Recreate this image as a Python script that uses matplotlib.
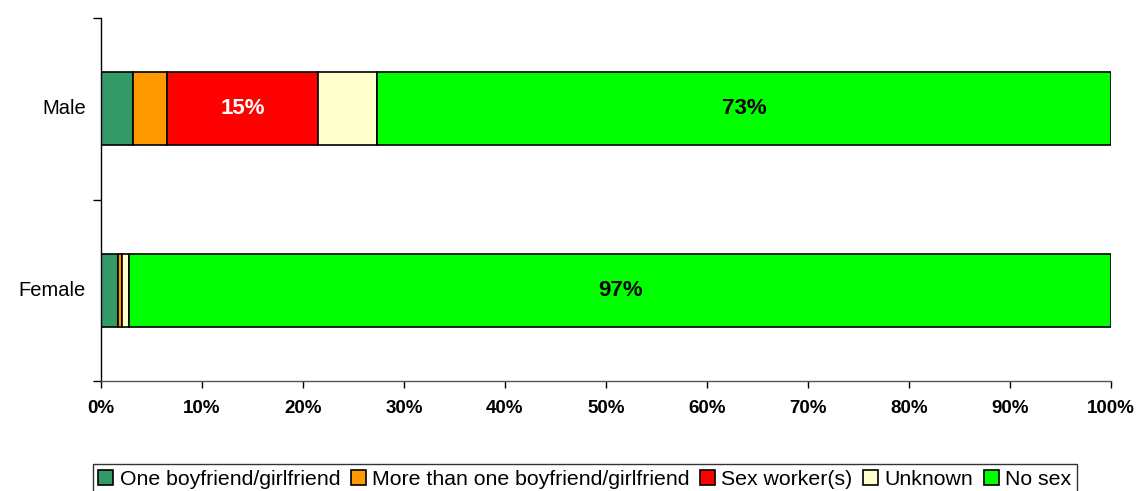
import matplotlib.pyplot as plt
from matplotlib.ticker import FixedLocator, NullFormatter
import numpy as np

plt.rcParams['font.family'] = ['Liberation Sans', 'DejaVu Sans']

categories = ['Female', 'Male']
series_names = ['One boyfriend/girlfriend', 'More than one boyfriend/girlfriend',
                'Sex worker(s)', 'Unknown', 'No sex']
values = {
    'One boyfriend/girlfriend': [1.7, 3.2],
    'More than one boyfriend/girlfriend': [0.4, 3.3],
    'Sex worker(s)': [0.0, 15.0],
    'Unknown': [0.7, 5.8],
    'No sex': [97.2, 72.7],
}
labels = {
    'Sex worker(s)': ['', '15%'],
    'No sex': ['97%', '73%'],
}
label_colors = {'Sex worker(s)': 'white', 'No sex': 'black'}
colors = ['#339966', '#FF9900', '#FF0000', '#FFFFCC', '#00FF00']
xticks = list(range(0, 101, 10))

fig = plt.figure(figsize=(11.36, 4.91), dpi=100)
ax = fig.add_axes([101/1136, 1 - 381/491, (1111-101)/1136, (381-18)/491])

y = np.arange(len(categories))
left = np.zeros(len(categories))
for name, c in zip(series_names, colors):
    v = np.array(values[name])
    ax.barh(y, v, left=left, height=0.4, color=c, edgecolor='black', linewidth=1.2, label=name)
    if name in labels:
        for i, t in enumerate(labels[name]):
            if t:
                ax.text(left[i] + v[i] / 2, y[i], t, ha='center', va='center',
                        fontsize=16, fontweight='bold', color=label_colors[name])
    left += v

ax.set_xlim(0, 100)
ax.set_ylim(-0.5, 1.5)
ax.set_xticks(xticks)
ax.set_xticklabels([f'{t}%' for t in xticks], fontsize=13.5, fontweight='bold')
ax.yaxis.set_major_locator(FixedLocator([-0.5, 0.5, 1.5]))
ax.yaxis.set_major_formatter(NullFormatter())
for yi, cat in zip(y, categories):
    ax.text(-1.5, yi, cat, ha='right', va='center', fontsize=14.5)
ax.tick_params(axis='x', length=5, width=1, direction='out', pad=9)
ax.tick_params(axis='y', length=6, width=1, direction='out')
for s in ['top', 'right']:
    ax.spines[s].set_visible(False)
ax.spines['left'].set_linewidth(1)
ax.spines['bottom'].set_linewidth(1)
ax.spines['bottom'].set_color('#555555')

leg = fig.legend(loc='lower left', bbox_to_anchor=(93/1136, -0.006), ncol=5, fontsize=15.3,
                 frameon=True, fancybox=False, edgecolor='black', handlelength=0.7,
                 handleheight=0.7, handletextpad=0.3, columnspacing=0.5, borderpad=0.25,
                 borderaxespad=0)
leg.get_frame().set_linewidth(1)

fig.savefig('out.png', dpi=100)
